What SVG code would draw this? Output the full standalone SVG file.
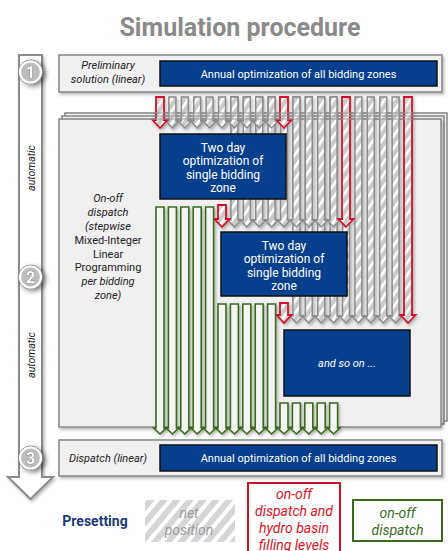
<svg xmlns="http://www.w3.org/2000/svg" width="448" height="551" viewBox="0 0 448 551">
<style>
text{font-family:Roboto,"Liberation Sans",sans-serif}
.panel{fill:#f0f0f0;stroke:#8c8c8c;stroke-width:1.6}
.blue{fill:#063f8c;stroke:#111;stroke-width:1.5}
.wt{fill:#fff;font-size:11px;text-anchor:middle}
.bt{fill:#fff;font-size:12px;text-anchor:middle}
.lab{fill:#222;font-size:11px;text-anchor:middle}
.it{font-style:italic}
.g{fill:url(#hatch);stroke:#8a8a8a;stroke-width:1.5}
.r{fill:url(#hatch);stroke:#d4112b;stroke-width:1.8}
.gr{fill:#f4f4f4;stroke:#3b6a1f;stroke-width:1.6}
.num{fill:#fff;font-size:16px;font-weight:bold;text-anchor:middle;stroke:#777;stroke-width:0.7;paint-order:stroke}
.circ{fill:#bdbdbd;stroke:#fff;stroke-width:2.2}
.ring{fill:none;stroke:#888;stroke-width:1}
.auto{fill:#222;font-size:10.5px;font-style:italic;text-anchor:middle}
.edge{stroke:#9a9a9a;stroke-width:1.2;fill:none}
</style>
<defs>
<pattern id="hatch" patternUnits="userSpaceOnUse" width="7" height="7" patternTransform="rotate(35)">
<rect width="7" height="7" fill="#cbcbcb"/><rect width="2.6" height="7" fill="#fff"/>
</pattern>
<pattern id="hatch2" patternUnits="userSpaceOnUse" width="10" height="10" patternTransform="rotate(40)">
<rect width="10" height="10" fill="#d6d6d6"/><rect width="4" height="10" fill="#fff"/>
</pattern>
<filter id="sh" x="-10%" y="-10%" width="130%" height="130%">
<feDropShadow dx="1.5" dy="2" stdDeviation="1.8" flood-color="#000" flood-opacity="0.28"/>
</filter>
<filter id="sh2" x="-50%" y="-50%" width="200%" height="200%">
<feDropShadow dx="3" dy="2" stdDeviation="2.5" flood-color="#000" flood-opacity="0.5"/>
</filter>
</defs>

<g id="title">
<text x="240" y="36" font-size="25" font-weight="bold" fill="#8a8a8a" text-anchor="middle">Simulation procedure</text>
</g>

<g id="process-arrow">
<path d="M19,55H42V477H53L30.5,499L8,477H19Z" fill="#fff" stroke="#8c8c8c" stroke-width="2" filter="url(#sh)"/>
<text class="auto" transform="translate(35,168) rotate(-90)">automatic</text>
<text class="auto" transform="translate(35,355) rotate(-90)">automatic</text>
</g>

<g id="step-1" filter="url(#sh2)">
<circle class="ring" cx="30.5" cy="72" r="12"/>
<circle class="circ" cx="30.5" cy="72" r="10.5"/>
<text class="num" x="30.5" y="78">1</text>
</g>
<g id="step-2" filter="url(#sh2)">
<circle class="ring" cx="30.5" cy="277" r="12"/>
<circle class="circ" cx="30.5" cy="277" r="10.5"/>
<text class="num" x="30.5" y="283">2</text>
</g>
<g id="step-3" filter="url(#sh2)">
<circle class="ring" cx="30.5" cy="458" r="12"/>
<circle class="circ" cx="30.5" cy="458" r="10.5"/>
<text class="num" x="30.5" y="464">3</text>
</g>

<g id="preliminary-solution">
<rect class="panel" x="59" y="55" width="383" height="37" filter="url(#sh)"/>
<text class="lab it" x="108" y="69">Preliminary</text>
<text class="lab it" x="108" y="83">solution (linear)</text>
</g>
<g id="annual-optimization-1">
<rect class="blue" x="160" y="61" width="277" height="25"/>
<text class="wt" x="298.5" y="77.5">Annual optimization of all bidding zones</text>
</g>

<g id="onoff-dispatch-panel">
<rect class="panel" x="65" y="113" width="382" height="308"/>
<rect class="panel" x="62" y="116" width="382" height="308"/>
<rect class="panel" x="59" y="119" width="382" height="308" filter="url(#sh)"/>
<text class="lab it" x="108" y="202">On-off</text>
<text class="lab it" x="108" y="216">dispatch</text>
<text class="lab it" x="108" y="230">(stepwise</text>
<text class="lab" x="108" y="244">Mixed-Integer</text>
<text class="lab" x="108" y="258">Linear</text>
<text class="lab" x="108" y="271">Programming</text>
<text class="lab it" x="108" y="285">per bidding</text>
<text class="lab it" x="108" y="299">zone)</text>
</g>

<g id="connectors" filter="url(#sh)">
<path class="g" d="M292.9,97H299.9V316H302.9L296.4,323L289.9,316H292.9Z"/>
<path class="g" d="M305.3,97H312.3V316H315.3L308.8,323L302.3,316H305.3Z"/>
<path class="g" d="M317.7,97H324.7V316H327.7L321.2,323L314.7,316H317.7Z"/>
<path class="g" d="M330.1,97H337.1V316H340.1L333.6,323L327.1,316H330.1Z"/>
<path class="g" d="M342.5,97H349.5V316H352.5L346,323L339.5,316H342.5Z"/>
<path class="g" d="M354.9,97H361.9V316H364.9L358.4,323L351.9,316H354.9Z"/>
<path class="g" d="M367.3,97H374.3V316H377.3L370.8,323L364.3,316H367.3Z"/>
<path class="g" d="M379.7,97H386.7V316H389.7L383.2,323L376.7,316H379.7Z"/>
<path class="g" d="M392.1,97H399.1V316H402.1L395.6,323L389.1,316H392.1Z"/>
<path class="r" d="M404,97H412V315H415.5L408,323L400.5,315H404Z"/>
<path class="r" d="M280,303H288V315H291.5L284,323L276.5,315H280Z"/>
<path class="g" d="M230.9,97H237.9V220H240.9L234.4,227L227.9,220H230.9Z"/>
<path class="g" d="M243.3,97H250.3V220H253.3L246.8,227L240.3,220H243.3Z"/>
<path class="g" d="M255.7,97H262.7V220H265.7L259.2,227L252.7,220H255.7Z"/>
<path class="g" d="M268.1,97H275.1V220H278.1L271.6,227L265.1,220H268.1Z"/>
<path class="g" d="M280.5,97H287.5V220H290.5L284,227L277.5,220H280.5Z"/>
<path class="g" d="M292.9,97H299.9V220H302.9L296.4,227L289.9,220H292.9Z"/>
<path class="g" d="M305.3,97H312.3V220H315.3L308.8,227L302.3,220H305.3Z"/>
<path class="g" d="M317.7,97H324.7V220H327.7L321.2,227L314.7,220H317.7Z"/>
<path class="g" d="M330.1,97H337.1V220H340.1L333.6,227L327.1,220H330.1Z"/>
<path class="r" d="M342,97H350V219H353.5L346,227L338.5,219H342Z"/>
<path class="r" d="M218,205H226V219H229.5L222,227L214.5,219H218Z"/>
<path class="g" d="M168.9,97H175.9V121H178.9L172.4,128L165.9,121H168.9Z"/>
<path class="g" d="M181.3,97H188.3V121H191.3L184.8,128L178.3,121H181.3Z"/>
<path class="g" d="M193.7,97H200.7V121H203.7L197.2,128L190.7,121H193.7Z"/>
<path class="g" d="M206.1,97H213.1V121H216.1L209.6,128L203.1,121H206.1Z"/>
<path class="g" d="M218.5,97H225.5V121H228.5L222,128L215.5,121H218.5Z"/>
<path class="g" d="M230.9,97H237.9V121H240.9L234.4,128L227.9,121H230.9Z"/>
<path class="g" d="M243.3,97H250.3V121H253.3L246.8,128L240.3,121H243.3Z"/>
<path class="g" d="M255.7,97H262.7V121H265.7L259.2,128L252.7,121H255.7Z"/>
<path class="g" d="M268.1,97H275.1V121H278.1L271.6,128L265.1,121H268.1Z"/>
<path class="r" d="M156,97H164V120H167.5L160,128L152.5,120H156Z"/>
<path class="r" d="M280,97H288V120H291.5L284,128L276.5,120H280Z"/>
<path class="gr" d="M156,207H164V428H166.2L160,434L153.8,428H156Z"/>
<path class="gr" d="M168.4,207H176.4V428H178.6L172.4,434L166.2,428H168.4Z"/>
<path class="gr" d="M180.8,207H188.8V428H191L184.8,434L178.6,428H180.8Z"/>
<path class="gr" d="M193.2,207H201.2V428H203.4L197.2,434L191,428H193.2Z"/>
<path class="gr" d="M205.6,207H213.6V428H215.8L209.6,434L203.4,428H205.6Z"/>
<path class="gr" d="M218,304H226V428H228.2L222,434L215.8,428H218Z"/>
<path class="gr" d="M230.4,304H238.4V428H240.6L234.4,434L228.2,428H230.4Z"/>
<path class="gr" d="M242.8,304H250.8V428H253L246.8,434L240.6,428H242.8Z"/>
<path class="gr" d="M255.2,304H263.2V428H265.4L259.2,434L253,428H255.2Z"/>
<path class="gr" d="M267.6,304H275.6V428H277.8L271.6,434L265.4,428H267.6Z"/>
<path class="gr" d="M280,403H288V428H290.2L284,434L277.8,428H280Z"/>
<path class="gr" d="M292.4,403H300.4V428H302.6L296.4,434L290.2,428H292.4Z"/>
<path class="gr" d="M304.8,403H312.8V428H315L308.8,434L302.6,428H304.8Z"/>
<path class="gr" d="M317.2,403H325.2V428H327.4L321.2,434L315,428H317.2Z"/>
<path class="gr" d="M329.6,403H337.6V428H339.8L333.6,434L327.4,428H329.6Z"/>
</g>
<g id="panel-edges">
<path class="edge" d="M150,113H416M150,116H416M150,119H416"/>
</g>

<g id="two-day-optimization-1">
<rect class="blue" x="160" y="134" width="126" height="65"/>
<text class="bt" x="223" y="151.5">Two day</text>
<text class="bt" x="223" y="165">optimization of</text>
<text class="bt" x="223" y="178.5">single bidding</text>
<text class="bt" x="223" y="192">zone</text>
</g>
<g id="two-day-optimization-2">
<rect class="blue" x="221" y="232" width="126" height="64"/>
<text class="bt" x="284" y="249.5">Two day</text>
<text class="bt" x="284" y="263">optimization of</text>
<text class="bt" x="284" y="276.5">single bidding</text>
<text class="bt" x="284" y="290">zone</text>
</g>
<g id="and-so-on">
<rect class="blue" x="284" y="330" width="126" height="66"/>
<text class="wt it" x="347" y="367">and so on ...</text>
</g>

<g id="dispatch-linear">
<rect class="panel" x="59" y="440" width="383" height="36" filter="url(#sh)"/>
<text class="lab it" x="108" y="462">Dispatch (linear)</text>
</g>
<g id="annual-optimization-2">
<rect class="blue" x="160" y="445" width="277" height="26"/>
<text class="wt" x="298.5" y="461.5">Annual optimization of all bidding zones</text>
</g>

<g id="legend-presetting">
<text x="95" y="526" font-size="14" font-weight="bold" fill="#1f3a78" text-anchor="middle">Presetting</text>
</g>
<g id="legend-net-position">
<rect x="145" y="500" width="90" height="42" fill="url(#hatch2)"/>
<text x="189" y="518" font-size="14" font-style="italic" fill="#9c9c9c" text-anchor="middle">net</text>
<text x="189" y="535" font-size="14" font-style="italic" fill="#9c9c9c" text-anchor="middle">position</text>
</g>
<g id="legend-red">
<rect x="248" y="483" width="92" height="80" fill="#fff" stroke="#d4112b" stroke-width="2"/>
<text x="294" y="499" font-size="14" font-style="italic" fill="#e5101e" text-anchor="middle">on-off</text>
<text x="294" y="516" font-size="14" font-style="italic" fill="#e5101e" text-anchor="middle">dispatch and</text>
<text x="294" y="533" font-size="14" font-style="italic" fill="#e5101e" text-anchor="middle">hydro basin</text>
<text x="294" y="549.5" font-size="14" font-style="italic" fill="#e5101e" text-anchor="middle">filling levels</text>
</g>
<g id="legend-green">
<rect x="353" y="500" width="89" height="41" fill="#fff" stroke="#3b6a1f" stroke-width="2"/>
<text x="397.5" y="518" font-size="14" font-style="italic" fill="#3b6a1f" text-anchor="middle">on-off</text>
<text x="397.5" y="535" font-size="14" font-style="italic" fill="#3b6a1f" text-anchor="middle">dispatch</text>
</g>
</svg>
